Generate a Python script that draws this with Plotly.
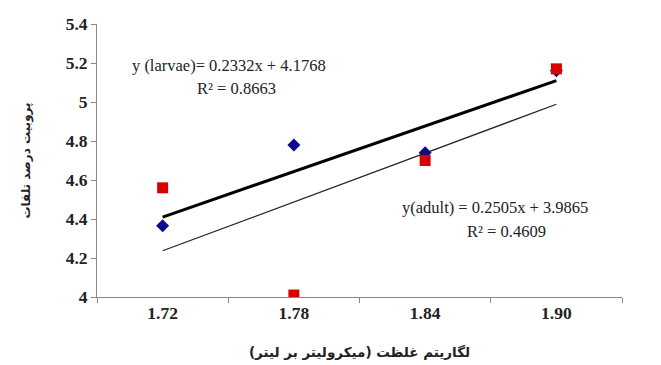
import plotly.graph_objects as go

categories = ["1.72", "1.78", "1.84", "1.90"]
larvae = [4.365, 4.78, 4.74, 5.16]
adult = [4.56, 4.01, 4.70, 5.17]
larvae_slope, larvae_intercept = 0.2332, 4.1768
adult_slope, adult_intercept = 0.2505, 3.9865
y_ticks = [4, 4.2, 4.4, 4.6, 4.8, 5, 5.2, 5.4]
y_ticklabels = ["4", "4.2", "4.4", "4.6", "4.8", "5", "5.2", "5.4"]

idx = [1, len(categories)]
ends = [categories[0], categories[-1]]

fig = go.Figure()
fig.add_trace(go.Scatter(x=categories, y=larvae, mode="markers",
                         marker=dict(symbol="diamond", size=10, color="#0a0a8c"),
                         name="larvae"))
fig.add_trace(go.Scatter(x=categories, y=adult, mode="markers",
                         marker=dict(symbol="square", size=11, color="#d80000"),
                         name="adult"))
fig.add_trace(go.Scatter(x=ends, y=[larvae_slope * i + larvae_intercept for i in idx],
                         mode="lines", line=dict(color="black", width=3)))
fig.add_trace(go.Scatter(x=ends, y=[adult_slope * i + adult_intercept for i in idx],
                         mode="lines", line=dict(color="#222", width=1.2)))

tfont = dict(family="Liberation Serif", size=16.5, color="#222")
fig.add_annotation(x=0.063, y=5.186, xref="paper", yref="y", xanchor="left",
                   text="y (larvae)= 0.2332x + 4.1768", showarrow=False, font=tfont)
fig.add_annotation(x=0.187, y=5.07, xref="paper", yref="y", xanchor="left",
                   text="R² = 0.8663", showarrow=False, font=tfont)
fig.add_annotation(x=0.577, y=4.46, xref="paper", yref="y", xanchor="left",
                   text="y(adult) = 0.2505x + 3.9865", showarrow=False, font=tfont)
fig.add_annotation(x=0.7, y=4.335, xref="paper", yref="y", xanchor="left",
                   text="R² = 0.4609", showarrow=False, font=tfont)

tick_font = dict(family="Liberation Serif", size=17.5, color="#222", weight="bold")
fig.update_layout(
    width=653, height=357,
    margin=dict(l=89, r=39, t=16, b=68, autoexpand=False),
    plot_bgcolor="white", paper_bgcolor="white",
    showlegend=False,
    xaxis=dict(type="category", categoryorder="array", categoryarray=categories,
               range=[-0.5, 3.5],
               tickson="boundaries", ticks="outside", ticklen=5, tickcolor="#888",
               showline=True, linecolor="#888", showgrid=False, zeroline=False,
               automargin=False, tickfont=tick_font,
               title=dict(text="لگاریتم غلظت (میکرولیتر بر لیتر)",
                          font=dict(family="DejaVu Sans", size=13.5, color="#222", weight="bold"),
                          standoff=25)),
    yaxis=dict(range=[4, 5.4], tickvals=y_ticks, ticktext=y_ticklabels,
               ticks="outside", ticklen=5, tickcolor="#888",
               showline=True, linecolor="#888", showgrid=False, zeroline=False,
               automargin=False, tickfont=tick_font,
               title=dict(text="پروبیت درصد تلفات",
                          font=dict(family="DejaVu Sans", size=12, color="#222", weight="bold"),
                          standoff=32)),
)

fig.write_html("out.html")
